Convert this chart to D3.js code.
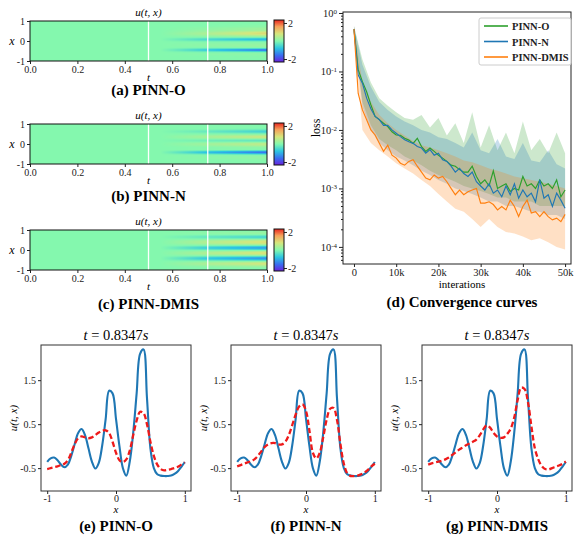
<!DOCTYPE html>
<html>
<head>
<meta charset="utf-8">
<script src="https://cdn.jsdelivr.net/npm/d3@7"></script>
<style>
  body { margin: 0; background: #fff; }
</style>
</head>
<body>
<div id="chart"></div>
<script>
// sample points in x (shared by the heat maps and the t = 0.8347 cuts)
var xs = [-1,-0.95,-0.9,-0.85,-0.8,-0.75,-0.7,-0.65,-0.6,-0.55,-0.5,-0.45,-0.4,-0.35,-0.3,-0.25,-0.2,-0.15,-0.1,-0.05,
          0,0.05,0.1,0.15,0.2,0.25,0.3,0.35,0.4,0.45,0.5,0.55,0.6,0.65,0.7,0.75,0.8,0.85,0.9,0.95,1];

// heat maps u(t, x): background value and columns at t = 0.75 and t = 1
var heatT = [0, 0.55, 0.75, 1];
var u0 = 0;
var heatO75 = [0,0,0,0,0,0,0.05,0.05,0,-0.1,-0.5,-0.8,-0.5,-0.1,0.05,0.1,0.1,0.1,0.05,0,-0.2,-0.5,-0.5,-0.2,0.05,0.15,0.3,0.4,0.4,0.3,0.2,0.15,0.1,0.1,0.05,0,0,0,0,0,0];
var heatO1  = [0,0,0,0.05,0.05,0.05,0.1,0.1,0.05,-0.2,-1.0,-1.8,-0.9,-0.1,0.15,0.2,0.2,0.15,0.1,0,-0.3,-0.9,-1.0,-0.4,0.1,0.35,0.7,0.95,1.0,0.8,0.45,0.25,0.3,0.25,0.1,0.1,0.05,0,0,0,0];
var heatN75 = [0,0,0,0,0,0.05,0.05,0.05,0.05,0,-0.3,-0.8,-0.9,-0.4,0,0.05,0,0.05,0.15,0.25,0.3,0.2,0,-0.15,-0.15,0.05,0.25,0.35,0.3,0.15,0,-0.1,-0.25,-0.25,-0.1,0,0,0,0,0,0];
var heatN1  = [0,0,0,0,0.05,0.1,0.15,0.15,0.1,-0.1,-0.6,-1.4,-1.7,-0.8,-0.1,0.1,0.05,0.15,0.35,0.55,0.6,0.45,0,-0.3,-0.3,0.1,0.55,0.75,0.6,0.3,0,-0.3,-0.6,-0.6,-0.3,-0.1,0,0,0,0,0];
var heatD75 = [0,0,0,0.05,0.15,0.3,0.4,0.35,0.2,-0.05,-0.4,-0.7,-0.75,-0.45,-0.05,0.2,0.4,0.45,0.35,0.15,-0.15,-0.5,-0.7,-0.55,-0.2,0.1,0.3,0.45,0.45,0.4,0.2,0,-0.2,-0.3,-0.2,-0.05,0.05,0.1,0.05,0,0];
var heatD1  = [0,0,0.05,0.15,0.35,0.6,0.8,0.75,0.4,-0.1,-0.7,-1.2,-1.3,-0.8,-0.1,0.4,0.8,0.9,0.75,0.3,-0.3,-0.9,-1.2,-1.0,-0.4,0.2,0.6,0.85,0.9,0.8,0.45,0,-0.45,-0.6,-0.4,-0.1,0.15,0.2,0.15,0.05,0];

// convergence curves (iterations in thousands)
var iterK = [0,1,2,3,4,5,6,7,8,9,10,11,12,13,14,15,16,17,18,19,20,21,22,23,24,25,26,27,28,29,30,
             31,32,33,34,35,36,37,38,39,40,41,42,43,44,45,46,47,48,49,50];
var lossO = [0.53,0.107,0.067,0.045,0.027,0.017,0.015,0.013,0.0114,0.0093,0.0082,0.0081,0.0072,0.0067,0.0059,0.0072,0.0052,0.0043,0.0049,0.0043,0.0037,
             0.0033,0.0029,0.0025,0.0024,0.0021,0.0019,0.0019,0.0024,0.0016,0.0012,0.0014,0.0011,0.0020,0.0010,0.0011,0.0012,0.00089,0.0010,0.00094,0.0016,
             0.0011,0.0012,0.0010,0.0014,0.0011,0.0012,0.0010,0.0014,0.00072,0.00094];
var lossN = [0.53,0.087,0.063,0.035,0.023,0.017,0.015,0.012,0.012,0.010,0.0088,0.0077,0.0068,0.0063,0.0059,0.0052,0.0049,0.0040,0.0046,0.0037,0.0040,
             0.0031,0.0029,0.0024,0.0019,0.0022,0.0018,0.0016,0.0019,0.0013,0.0011,0.00094,0.0012,0.00083,0.00094,0.00072,0.0011,0.00078,0.0012,0.00068,0.00094,
             0.00072,0.00083,0.00059,0.0014,0.00068,0.00078,0.00049,0.00083,0.00063,0.00046];
var lossD = [0.53,0.042,0.022,0.015,0.010,0.0082,0.0059,0.0043,0.0055,0.0037,0.0033,0.0027,0.0025,0.0029,0.0031,0.0024,0.0019,0.0015,0.0014,0.0017,0.0015,
             0.0016,0.0013,0.0010,0.00078,0.00094,0.00078,0.00088,0.00094,0.0010,0.00056,0.00056,0.00059,0.00053,0.00043,0.00049,0.00043,0.00063,0.00049,0.00033,0.00049,
             0.00063,0.00038,0.00040,0.00033,0.00040,0.00033,0.00029,0.00031,0.00027,0.00036];
var bandK = [0,2,4,6,8,10,12,14,16,18,20,22,24,26,28,30,32,34,36,38,40,42,44,46,48,50];
var hiO = [0.6,0.16,0.065,0.035,0.026,0.02,0.016,0.015,0.018,0.011,0.016,0.008,0.013,0.006,0.02,0.005,0.012,0.0045,0.009,0.004,0.014,0.0045,0.007,0.004,0.009,0.004];
var loO = [0.45,0.03,0.012,0.007,0.0055,0.0045,0.0035,0.003,0.0025,0.002,0.0017,0.0015,0.0013,0.0011,0.001,0.0009,0.0008,0.0007,0.0007,0.0006,0.0006,0.0006,0.0005,0.0005,0.0005,0.0005];
var hiN = [0.6,0.13,0.055,0.03,0.022,0.017,0.014,0.012,0.01,0.009,0.0075,0.007,0.006,0.005,0.009,0.0045,0.004,0.007,0.0035,0.0032,0.006,0.003,0.0028,0.0045,0.0026,0.0022];
var loN = [0.45,0.025,0.01,0.006,0.0045,0.0035,0.003,0.0025,0.002,0.0017,0.0014,0.0012,0.001,0.0009,0.0008,0.0007,0.0006,0.0006,0.0005,0.0005,0.00045,0.0004,0.0004,0.00035,0.00035,0.0003];
var hiD = [0.6,0.065,0.03,0.018,0.013,0.01,0.008,0.0065,0.0055,0.005,0.0045,0.004,0.0035,0.003,0.0028,0.0025,0.0022,0.002,0.0018,0.0016,0.0015,0.0014,0.0013,0.0012,0.0011,0.001];
var loD = [0.45,0.01,0.006,0.0045,0.0035,0.0027,0.0022,0.0018,0.0014,0.0011,0.0008,0.0006,0.00045,0.0004,0.0003,0.00022,0.0003,0.00022,0.00018,0.00017,0.00015,0.00013,0.00014,0.00012,0.0001,0.00009];
var lossTicks = [1, 0.1, 0.01, 0.001, 0.0001];
var iterTicks = [0, 10, 20, 30, 40, 50];

// profiles at t = 0.8347 s
var uExact = [-0.36,-0.28,-0.26,-0.32,-0.42,-0.48,-0.42,-0.22,0.05,0.30,0.39,0.25,-0.05,-0.35,-0.51,-0.38,0.02,0.62,1.26,1.20,
              0.62,0.0,-0.5,-0.67,-0.35,0.3,1.2,2.1,2.2,1.1,-0.05,-0.5,-0.64,-0.67,-0.68,-0.68,-0.67,-0.63,-0.57,-0.47,-0.36];
var uO = [-0.52,-0.50,-0.48,-0.46,-0.43,-0.40,-0.32,-0.15,0.05,0.18,0.22,0.20,0.18,0.20,0.25,0.31,0.35,0.36,0.30,0.10,
          -0.15,-0.32,-0.36,-0.30,-0.10,0.25,0.58,0.78,0.75,0.50,0.10,-0.22,-0.42,-0.52,-0.55,-0.54,-0.52,-0.50,-0.47,-0.42,-0.37];
var uN = [-0.46,-0.43,-0.40,-0.37,-0.34,-0.30,-0.22,-0.12,-0.02,0.04,0.07,0.07,0.04,0.04,0.10,0.25,0.48,0.72,0.90,0.95,
          0.80,0.35,-0.15,-0.28,-0.15,0.20,0.60,0.85,0.87,0.60,0.05,-0.40,-0.62,-0.68,-0.68,-0.67,-0.64,-0.60,-0.54,-0.46,-0.40];
var uD = [-0.42,-0.39,-0.37,-0.35,-0.33,-0.30,-0.26,-0.20,-0.14,-0.08,-0.03,0.02,0.06,0.10,0.15,0.25,0.38,0.47,0.42,0.30,
          0.22,0.19,0.20,0.28,0.40,0.65,1.05,1.33,1.30,1.00,0.45,-0.05,-0.30,-0.45,-0.52,-0.53,-0.50,-0.47,-0.44,-0.40,-0.35];
var cutTicksX = [-1, 0, 1];
var cutTicksY = [1.5, 0.5, -0.5];

var serif = '"Liberation Serif", "DejaVu Serif", serif';
var W = 574, H = 536;

var svg = d3.select("#chart").append("svg")
    .attr("width", W)
    .attr("height", H)
    .attr("font-family", serif);

// colour map (rainbow-like, -2.33 .. 2.33)
var cmapStops = [-2.33, -1.6, -0.8, 0, 0.8, 1.6, 2.33];
var cmapColors = ["#6a22dc", "#3a6cf0", "#2cc6e2", "#84f8ae", "#d6e67c", "#f7a05a", "#e8261f"];
var cmap = d3.scaleLinear().domain(cmapStops).range(cmapColors).clamp(true);

var grad = svg.append("defs").append("linearGradient")
    .attr("id", "cbar")
    .attr("x1", 0).attr("y1", 1).attr("x2", 0).attr("y2", 0);
grad.selectAll("stop")
    .data(cmapStops)
    .enter()
    .append("stop")
    .attr("offset", function(d) { return (d + 2.33) / 4.66; })
    .attr("stop-color", function(d) { return cmap(d); });

function styleAxis(g, size) {
  g.attr("font-family", serif).attr("font-size", size);
  g.select(".domain").remove();
  g.selectAll(".tick line").attr("stroke", "#222");
  g.selectAll(".tick text").attr("fill", "#222");
}

// ---------- heat maps ----------
function drawHeat(top, col75, col1, caption, capY) {
  var left = 30, right = 267, h = 40;
  var tS = d3.scaleLinear().domain([0, 1]).range([left, right]);
  var xS = d3.scaleLinear().domain([-1, 1]).range([top + h, top]);
  var rows = xs.map(function(x, i) {
    return d3.scaleLinear().domain(heatT).range([u0, u0, col75[i], col1[i]]);
  });

  var cw = right - left;
  var canvas = document.createElement("canvas");
  canvas.width = cw; canvas.height = h;
  var ctx = canvas.getContext("2d");
  var img = ctx.createImageData(cw, h);
  for (var px = 0; px < cw; px++) {
    var t = tS.invert(left + px + 0.5);
    var colS = d3.scaleLinear().domain(xs).range(rows.map(function(r) { return r(t); }));
    for (var py = 0; py < h; py++) {
      var c = d3.rgb(cmap(colS(xS.invert(top + py + 0.5))));
      var k = 4 * (py * cw + px);
      img.data[k] = c.r; img.data[k + 1] = c.g; img.data[k + 2] = c.b; img.data[k + 3] = 255;
    }
  }
  ctx.putImageData(img, 0, 0);

  svg.append("image")
     .attr("x", left).attr("y", top)
     .attr("width", cw).attr("height", h)
     .attr("preserveAspectRatio", "none")
     .attr("href", canvas.toDataURL());

  svg.selectAll(null)
     .data([0.5, 0.75])
     .enter()
     .append("line")
     .attr("x1", function(d) { return tS(d); })
     .attr("x2", function(d) { return tS(d); })
     .attr("y1", top).attr("y2", top + h)
     .attr("stroke", "#fff")
     .attr("stroke-width", 1.3);

  svg.append("rect")
     .attr("x", left).attr("y", top)
     .attr("width", cw).attr("height", h)
     .attr("fill", "none").attr("stroke", "#111");

  var gx = svg.append("g")
     .attr("transform", "translate(0," + (top + h) + ")")
     .call(d3.axisBottom(tS).tickValues([0, 0.2, 0.4, 0.6, 0.8, 1]).tickFormat(d3.format(".1f")).tickSize(3).tickPadding(1.5));
  styleAxis(gx, 10);

  var gy = svg.append("g")
     .attr("transform", "translate(" + left + ",0)")
     .call(d3.axisLeft(xS).tickValues([1, 0, -1]).tickFormat(d3.format("d")).tickSize(3).tickPadding(2));
  styleAxis(gy, 10);
  gy.selectAll(".tick text").text(function(d) { return d < 0 ? "-1" : d; });

  // colour bar
  var cb = d3.scaleLinear().domain([-2.33, 2.33]).range([top + h + 1, top - 1]);
  svg.append("rect")
     .attr("x", 274).attr("y", top - 1)
     .attr("width", 10).attr("height", h + 2)
     .attr("fill", "url(#cbar)")
     .attr("stroke", "#111");
  var gc = svg.append("g")
     .attr("transform", "translate(284,0)")
     .call(d3.axisRight(cb).tickValues([2, -2]).tickFormat(function(d) { return d < 0 ? "-2" : "2"; }).tickSize(3).tickPadding(1));
  styleAxis(gc, 10);

  svg.append("text")
     .attr("x", (left + right) / 2).attr("y", top - 5)
     .attr("text-anchor", "middle")
     .attr("font-size", 11).attr("font-style", "italic")
     .text("u(t, x)");
  svg.append("text")
     .attr("x", (left + right) / 2).attr("y", top + h + 20)
     .attr("text-anchor", "middle")
     .attr("font-size", 11).attr("font-style", "italic")
     .text("t");
  svg.append("text")
     .attr("x", 12).attr("y", top + h / 2 + 4)
     .attr("text-anchor", "middle")
     .attr("font-size", 12).attr("font-style", "italic")
     .text("x");
  svg.append("text")
     .attr("x", (left + right) / 2).attr("y", capY)
     .attr("text-anchor", "middle")
     .attr("font-size", 15).attr("font-weight", "bold")
     .text(caption);
}

drawHeat(21, heatO75, heatO1, "(a) PINN-O", 95);
drawHeat(124, heatN75, heatN1, "(b) PINN-N", 201);
drawHeat(230, heatD75, heatD1, "(c) PINN-DMIS", 309);

// ---------- convergence curves ----------
var cL = 343, cR = 571, cT = 12, cB = 264;
var cx = d3.scaleLinear().domain([-2.6, 51.4]).range([cL, cR]);
var cy = d3.scaleLog().domain([5.1e-5, 1.04]).range([cB, cT]);

var methods = [
  { name: "PINN-O", color: "#2ca02c", loss: lossO, hi: hiO, lo: loO },
  { name: "PINN-N", color: "#1f77b4", loss: lossN, hi: hiN, lo: loN },
  { name: "PINN-DMIS", color: "#ff7f0e", loss: lossD, hi: hiD, lo: loD }
];

var conv = svg.append("g");
var area = d3.area()
    .x(function(d) { return cx(d.k); })
    .y0(function(d) { return cy(d.lo); })
    .y1(function(d) { return cy(d.hi); });
var line = d3.line()
    .x(function(d) { return cx(d.k); })
    .y(function(d) { return cy(d.v); });

methods.forEach(function(m) {
  var band = bandK.map(function(k, i) { return { k: k, lo: m.lo[i], hi: m.hi[i] }; });
  conv.append("path")
      .attr("d", area(band))
      .attr("fill", m.color)
      .attr("fill-opacity", 0.24);
});
methods.forEach(function(m) {
  var pts = iterK.map(function(k, i) { return { k: k, v: m.loss[i] }; });
  conv.append("path")
      .attr("d", line(pts))
      .attr("fill", "none")
      .attr("stroke", m.color)
      .attr("stroke-width", 1.15);
});

svg.append("rect")
   .attr("x", cL).attr("y", cT)
   .attr("width", cR - cL).attr("height", cB - cT)
   .attr("fill", "none").attr("stroke", "#222");

var gcx = svg.append("g")
   .attr("transform", "translate(0," + cB + ")")
   .call(d3.axisBottom(cx).tickValues(iterTicks)
         .tickFormat(function(d) { return d === 0 ? "0" : d + "k"; })
         .tickSize(3).tickPadding(2));
styleAxis(gcx, 10.5);

var minor = [];
[-5, -4, -3, -2, -1].forEach(function(e) {
  for (var m = 2; m <= 9; m++) {
    var v = m * Math.pow(10, e);
    if (v > 5.1e-5 && v < 1.04) minor.push(v);
  }
});
var gmin = svg.append("g")
   .attr("transform", "translate(" + cL + ",0)")
   .call(d3.axisLeft(cy).tickValues(minor).tickFormat("").tickSize(2));
styleAxis(gmin, 10);

var gcy = svg.append("g")
   .attr("transform", "translate(" + cL + ",0)")
   .call(d3.axisLeft(cy).tickValues(lossTicks).tickFormat("").tickSize(4).tickPadding(2));
styleAxis(gcy, 10.5);
gcy.selectAll(".tick text").each(function(d) {
  var e = Math.round(Math.log10(d));
  var t = d3.select(this).attr("dy", "0.32em");
  t.append("tspan").text("10");
  t.append("tspan").attr("dy", "-0.45em").attr("font-size", 7).text(e === 0 ? "0" : "-" + (-e));
});

svg.append("text")
   .attr("transform", "translate(320,128) rotate(-90)")
   .attr("text-anchor", "middle")
   .attr("font-size", 12)
   .text("loss");
svg.append("text")
   .attr("x", 462).attr("y", 288)
   .attr("text-anchor", "middle")
   .attr("font-size", 11)
   .text("interations");
svg.append("text")
   .attr("x", 462).attr("y", 307)
   .attr("text-anchor", "middle")
   .attr("font-size", 15).attr("font-weight", "bold")
   .text("(d) Convergence curves");

// legend
var lg = svg.append("g").attr("transform", "translate(479,18)");
lg.append("rect")
  .attr("width", 92).attr("height", 47)
  .attr("rx", 2)
  .attr("fill", "#fff").attr("fill-opacity", 0.85)
  .attr("stroke", "#ccc");
lg.selectAll("g.item")
  .data(methods)
  .enter()
  .append("g")
  .attr("class", "item")
  .attr("transform", function(d, i) { return "translate(0," + (8 + i * 15.5) + ")"; })
  .each(function(d) {
    var g = d3.select(this);
    g.append("line").attr("x1", 5).attr("x2", 29).attr("y1", 0).attr("y2", 0)
     .attr("stroke", d.color).attr("stroke-width", 1.6);
    g.append("text").attr("x", 33).attr("y", 4)
     .attr("font-size", 10.5).attr("font-weight", "bold").attr("fill", "#222")
     .text(d.name);
  });

// ---------- profiles at t = 0.8347 s ----------
function drawCut(L, pred, caption) {
  var R = L + 150, T = 345, B = 491;
  var px = d3.scaleLinear().domain([-1.09, 1.09]).range([L, R]);
  var py = d3.scaleLinear().domain([-1.02, 2.3]).range([B, T]);
  var ln = d3.line()
      .x(function(d) { return px(d[0]); })
      .y(function(d) { return py(d[1]); })
      .curve(d3.curveCatmullRom);

  svg.append("path")
     .attr("d", ln(xs.map(function(x, i) { return [x, uExact[i]]; })))
     .attr("fill", "none")
     .attr("stroke", "#1f77b4")
     .attr("stroke-width", 2.1);
  svg.append("path")
     .attr("d", ln(xs.map(function(x, i) { return [x, pred[i]]; })))
     .attr("fill", "none")
     .attr("stroke", "#ee1a1a")
     .attr("stroke-width", 2.3)
     .attr("stroke-dasharray", "5.5,2.8");

  svg.append("rect")
     .attr("x", L).attr("y", T)
     .attr("width", R - L).attr("height", B - T)
     .attr("fill", "none").attr("stroke", "#333");

  var gx = svg.append("g")
     .attr("transform", "translate(0," + B + ")")
     .call(d3.axisBottom(px).tickValues(cutTicksX).tickFormat(function(d) { return d < 0 ? "-1" : d; }).tickSize(3).tickPadding(1));
  styleAxis(gx, 10);
  var gy = svg.append("g")
     .attr("transform", "translate(" + L + ",0)")
     .call(d3.axisLeft(py).tickValues(cutTicksY).tickFormat(function(d) { return d < 0 ? "-0.5" : d; }).tickSize(3).tickPadding(2));
  styleAxis(gy, 10);

  var title = svg.append("text")
     .attr("x", (L + R) / 2).attr("y", 340)
     .attr("text-anchor", "middle")
     .attr("font-size", 14.5);
  title.append("tspan").attr("font-style", "italic").text("t");
  title.append("tspan").text(" = 0.8347");
  title.append("tspan").attr("font-style", "italic").text("s");

  svg.append("text")
     .attr("x", px(0)).attr("y", 513)
     .attr("text-anchor", "middle")
     .attr("font-size", 11).attr("font-style", "italic")
     .text("x");
  svg.append("text")
     .attr("transform", "translate(" + (L - 24) + ",418) rotate(-90)")
     .attr("text-anchor", "middle")
     .attr("font-size", 11).attr("font-style", "italic")
     .text("u(t, x)");
  svg.append("text")
     .attr("x", (L + R) / 2).attr("y", 531)
     .attr("text-anchor", "middle")
     .attr("font-size", 15).attr("font-weight", "bold")
     .text(caption);
}

drawCut(41, uO, "(e) PINN-O");
drawCut(231, uN, "(f) PINN-N");
drawCut(422, uD, "(g) PINN-DMIS");
</script>
</body>
</html>
